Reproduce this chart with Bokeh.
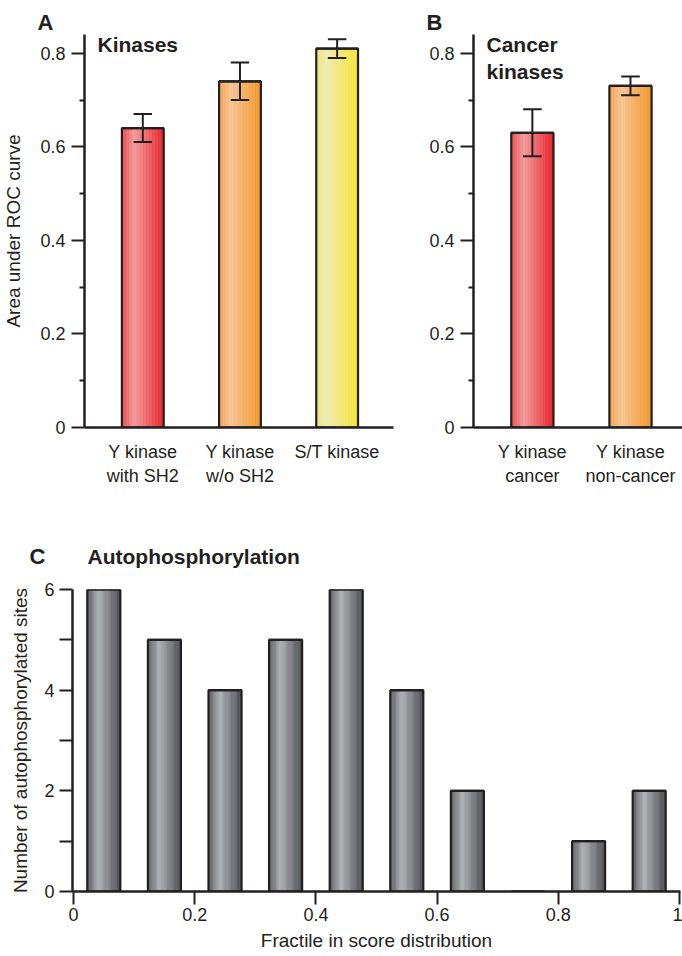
from bokeh.plotting import figure
from bokeh.layouts import column, row
from bokeh.models import FixedTicker, Label, Range1d, Title
from bokeh.embed import file_html
from bokeh.resources import INLINE

# ---------------- data ----------------
kin_pos = [1, 2, 3]
kin_labels = ["Y kinase\nwith SH2", "Y kinase\nw/o SH2", "S/T kinase"]
kin_auc = [0.64, 0.74, 0.81]
kin_err = [0.03, 0.04, 0.02]

can_pos = [1, 2]
can_labels = ["Y kinase\ncancer", "Y kinase\nnon-cancer"]
can_auc = [0.63, 0.73]
can_err = [0.05, 0.02]

frac_bins = [0.05, 0.15, 0.25, 0.35, 0.45, 0.55, 0.65, 0.75, 0.85, 0.95]
auto_counts = [6, 5, 4, 5, 6, 4, 2, 0, 1, 2]

auc_ticks = [0, 0.2, 0.4, 0.6, 0.8]
auc_minor = [0.1, 0.3, 0.5, 0.7]
cnt_ticks = [0, 2, 4, 6]
cnt_minor = [1, 3, 5]
frac_ticks = [0, 0.2, 0.4, 0.6, 0.8, 1]

# ---------------- styles ----------------
INK = "#231f20"
FONT = "Liberation Sans"
RED = [(0.0, "#e8474a"), (0.3, "#f29a9a"), (1.0, "#e8242a")]
ORANGE = [(0.0, "#f3a555"), (0.3, "#f6c493"), (1.0, "#f3982a")]
YELLOW = [(0.0, "#ece47e"), (0.25, "#eeeab0"), (1.0, "#f5e535")]
GRAY = [(0.0, "#5a5b5f"), (0.35, "#aeb0b4"), (1.0, "#4c4d51")]


def h2r(h):
    return tuple(int(h[i:i + 2], 16) for i in (1, 3, 5))


def grad(stops, t):
    for (t0, c0), (t1, c1) in zip(stops[:-1], stops[1:]):
        if t0 <= t <= t1:
            f = (t - t0) / (t1 - t0)
            a, b = h2r(c0), h2r(c1)
            return "#%02x%02x%02x" % tuple(round(a[i] + (b[i] - a[i]) * f) for i in range(3))
    return stops[-1][1]


def gradient_bars(p, xs, tops, width, stops_list, n=28):
    L, R, T, C = [], [], [], []
    for x, top, stops in zip(xs, tops, stops_list):
        for k in range(n):
            l = x - width / 2 + k * width / n
            L.append(l)
            R.append(l + width / n)
            T.append(top)
            C.append(grad(stops, (k + 0.5) / n))
    p.quad(left=L, right=R, bottom=0, top=T, fill_color=C, line_color=C, line_width=0.6)
    p.vbar(x=xs, top=tops, width=width, bottom=0, fill_alpha=0,
           line_color=INK, line_width=2.2)
    p.segment(x0=[x - width / 2 for x in xs], x1=[x + width / 2 for x in xs],
              y0=tops, y1=tops, line_color=INK, line_width=2.2)


def error_bars(p, xs, vals, errs, cap):
    lo = [v - e for v, e in zip(vals, errs)]
    hi = [v + e for v, e in zip(vals, errs)]
    p.segment(x0=xs, x1=xs, y0=lo, y1=hi, line_color=INK, line_width=2)
    for ys in (lo, hi):
        p.segment(x0=[x - cap / 2 for x in xs], x1=[x + cap / 2 for x in xs],
                  y0=ys, y1=ys, line_color=INK, line_width=2)


def style(p):
    p.grid.visible = False
    p.outline_line_color = None
    p.background_fill_color = "white"
    p.border_fill_color = "white"
    for ax in (p.xaxis[0], p.yaxis[0]):
        ax.axis_line_color = INK
        ax.axis_line_width = 2.5
        ax.major_tick_line_color = INK
        ax.major_tick_line_width = 2
        ax.minor_tick_line_color = INK
        ax.minor_tick_line_width = 2
        ax.major_tick_in = 0
        ax.minor_tick_in = 0
        ax.major_label_text_font = FONT
        ax.major_label_text_font_size = "18px"
        ax.major_label_text_color = INK
        ax.axis_label_text_font = FONT
        ax.axis_label_text_font_size = "19px"
        ax.axis_label_text_font_style = "normal"
        ax.axis_label_text_color = INK


def make_label(x, y, text, size):
    return Label(x=x, y=y, x_units="screen", y_units="screen", text=text,
                 text_font=FONT, text_font_size=size, text_font_style="bold",
                 text_color=INK, text_baseline="alphabetic", text_align="left")


def make_title(text, offset, standoff, size):
    return Title(text=text, align="left", offset=offset, standoff=standoff,
                 text_font=FONT, text_font_size=size, text_font_style="bold",
                 text_color=INK)


def auc_panel(width, x_end, pos, labels, vals, errs, colors, letter, titles, border_left, border_right):
    p = figure(width=width, height=505, output_backend="svg", toolbar_location=None,
               x_range=Range1d(0.4, x_end), y_range=Range1d(0, 0.84),
               min_border_left=border_left, min_border_right=border_right,
               min_border_top=34, min_border_bottom=78)
    style(p)
    gradient_bars(p, pos, vals, 0.43, colors)
    error_bars(p, pos, vals, errs, 0.19)
    p.yaxis.ticker = FixedTicker(ticks=auc_ticks, minor_ticks=auc_minor)
    p.yaxis.major_label_overrides = {0: "0"}
    p.yaxis.major_tick_out = 13
    p.yaxis.minor_tick_out = 5
    p.yaxis.major_label_standoff = 6
    p.xaxis.ticker = FixedTicker(ticks=pos, minor_ticks=[])
    p.xaxis.major_label_overrides = dict(zip(pos, labels))
    p.xaxis.major_tick_out = 0
    p.xaxis.minor_tick_out = 0
    p.xaxis.major_label_standoff = 14
    p.add_layout(make_title(letter, -47, 0, "22px"), "above")
    for i, t in enumerate(titles):
        p.add_layout(make_label(13, 383 - 27 * i, t, "21px"))
    return p


pA = auc_panel(400, 3.58, kin_pos, kin_labels, kin_auc, kin_err,
               [RED, ORANGE, YELLOW], "A", ["Kinases"], 81, 7)
pA.yaxis.axis_label = "Area under ROC curve"
pA.yaxis.axis_label_standoff = 13

pB = auc_panel(282, 2.53, can_pos, can_labels, can_auc, can_err,
               [RED, ORANGE], "B", ["Cancer", "kinases"], 73, 0)

# ---------------- panel C ----------------
pC = figure(width=682, height=451, output_backend="svg", toolbar_location=None,
            x_range=Range1d(-0.0017, 1.0017), y_range=Range1d(0, 6),
            min_border_left=72, min_border_right=2, min_border_top=84, min_border_bottom=65)
style(pC)
gradient_bars(pC, frac_bins, auto_counts, 0.0545, [GRAY] * len(frac_bins))
pC.yaxis.ticker = FixedTicker(ticks=cnt_ticks, minor_ticks=cnt_minor)
pC.yaxis.major_tick_out = 13
pC.yaxis.minor_tick_out = 13
pC.yaxis.major_label_standoff = 5
pC.yaxis.axis_label = "Number of autophosphorylated sites"
pC.yaxis.axis_label_standoff = 10
pC.xaxis.ticker = FixedTicker(ticks=frac_ticks, minor_ticks=[])
pC.xaxis.major_label_overrides = {0: "0", 1: "1"}
pC.xaxis.major_tick_out = 13
pC.xaxis.minor_tick_out = 0
pC.xaxis.major_label_standoff = 3
pC.xaxis.axis_label = "Fractile in score distribution"
pC.xaxis.axis_label_standoff = 6

pC.add_layout(make_label(-43, 33, "C", "22px"), "above")
pC.add_layout(make_label(15, 8, "Autophosphorylation", "21px"), "above")

layout = column(row(pA, pB), pC)
open("out.html", "w").write(file_html(layout, INLINE))
